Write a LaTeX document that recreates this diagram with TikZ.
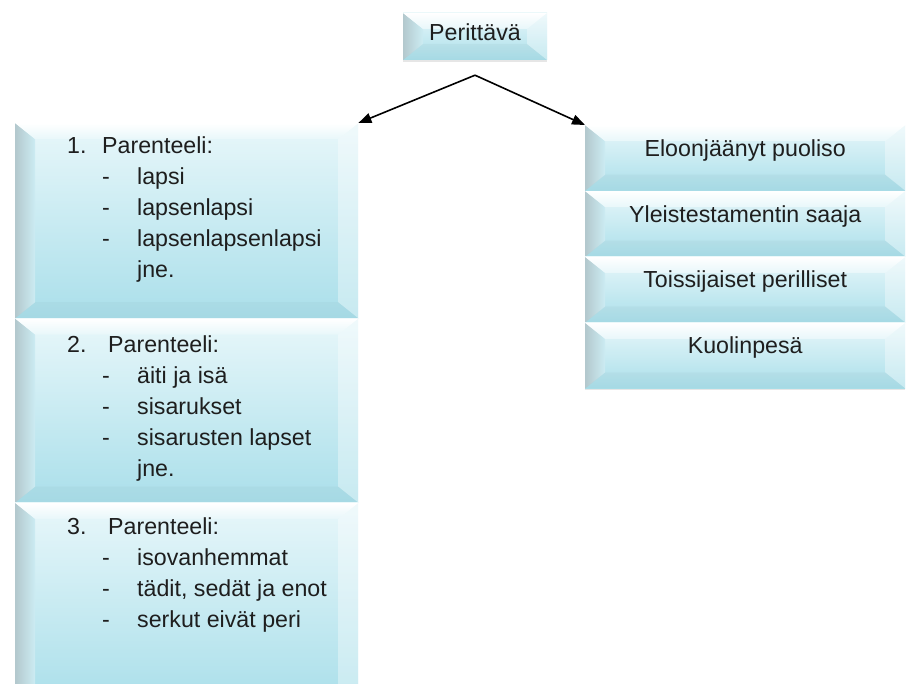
\documentclass[tikz,border=0pt]{standalone}
\usepackage{fontspec}
\setmainfont{Liberation Sans}
\usetikzlibrary{positioning,arrows.meta,shadows}
\definecolor{facetop}{HTML}{E8F7FA}
\definecolor{facebot}{HTML}{AADFEA}
\definecolor{bevside}{HTML}{B3C8CD}
\definecolor{txtcol}{HTML}{1E1E1E}
\begin{document}
\begin{tikzpicture}[x=1pt,y=-1pt,
    every node/.style={font=\fontsize{23.2}{31}\selectfont, text=txtcol},
    bevelbox/.style={inner sep=0pt, top color=facetop, bottom color=facebot,
      drop shadow={shadow xshift=0pt,shadow yshift=-2pt,opacity=.2},
      path picture={
        \coordinate (bnw) at (path picture bounding box.north west);
        \coordinate (bne) at (path picture bounding box.north east);
        \coordinate (bsw) at (path picture bounding box.south west);
        \coordinate (bse) at (path picture bounding box.south east);
        \shade[left color=bevside, right color=facetop!55!facebot]
          (bnw) -- ([shift={(20pt,-16pt)}]bnw) -- ([shift={(20pt,16pt)}]bsw) -- (bsw) -- cycle;
        \shade[top color=white, bottom color=facetop]
          (bnw) -- (bne) -- ([shift={(-20pt,-16pt)}]bne) -- ([shift={(20pt,-16pt)}]bnw) -- cycle;
        \fill[white, opacity=.35]
          (bne) -- ([shift={(-20pt,-16pt)}]bne) -- ([shift={(-20pt,16pt)}]bse) -- (bse) -- cycle;
        \fill[facebot!80!black, opacity=.12]
          (bsw) -- ([shift={(20pt,16pt)}]bsw) -- ([shift={(-20pt,16pt)}]bse) -- (bse) -- cycle;
      }},
    topbox/.style={bevelbox, minimum width=144pt, text height=27.5pt, text depth=19.5pt},
    leftbox/.style={bevelbox, minimum width=343pt},
    rightbox/.style={bevelbox, minimum width=320pt, text height=31pt, text depth=34.5pt},
    listtxt/.style={align=left, inner sep=0pt},
    conn/.style={-{Triangle[length=13pt,width=10pt]}, line width=1.6pt, black}]
  \useasboundingbox (0,0) rectangle (906,684);
  \clip (0,0) rectangle (906,684);

  \node[topbox] (perittava) at (475,36.5) {Perittävä};
  \coordinate[below=15pt of perittava] (apex);

  % parenteelit
  \node[leftbox, minimum height=195pt, anchor=north west] (par1) at (15,123) {};
  \node[leftbox, minimum height=184pt, below=0pt of par1] (par2) {};
  \node[leftbox, minimum height=200pt, below=0pt of par2] (par3) {};

  \node[listtxt, below right=13.4pt and 52pt of par1.north west] (par1txt) {%
    \makebox[35pt][l]{1.}Parenteeli:\\
    \hspace*{35pt}\makebox[35pt][l]{-}lapsi\\
    \hspace*{35pt}\makebox[35pt][l]{-}lapsenlapsi\\
    \hspace*{35pt}\makebox[35pt][l]{-}lapsenlapsenlapsi\\
    \hspace*{70pt}jne.};
  \node[listtxt, below right=16.6pt and 52pt of par2.north west] (par2txt) {%
    \makebox[41pt][l]{2.}Parenteeli:\\
    \hspace*{35pt}\makebox[35pt][l]{-}äiti ja isä\\
    \hspace*{35pt}\makebox[35pt][l]{-}sisarukset\\
    \hspace*{35pt}\makebox[35pt][l]{-}sisarusten lapset\\
    \hspace*{70pt}jne.};
  \node[listtxt, below right=14.6pt and 52pt of par3.north west] (par3txt) {%
    \makebox[41pt][l]{3.}Parenteeli:\\
    \hspace*{35pt}\makebox[35pt][l]{-}isovanhemmat\\
    \hspace*{35pt}\makebox[35pt][l]{-}tädit, sedät ja enot\\
    \hspace*{35pt}\makebox[35pt][l]{-}serkut eivät peri};

  % muut
  \node[rightbox, anchor=north west] (puoliso) at (585,125) {Eloonjäänyt puoliso};
  \node[rightbox, below=0pt of puoliso] (yleis) {Yleistestamentin saaja};
  \node[rightbox, below=0pt of yleis] (toissij) {Toissijaiset perilliset};
  \node[rightbox, below=0pt of toissij] (kuolinpesa) {Kuolinpesä};

  \draw[conn] (apex) -- (par1.north east);
  \draw[conn] (apex) -- (puoliso.north west);
\end{tikzpicture}
\end{document}
